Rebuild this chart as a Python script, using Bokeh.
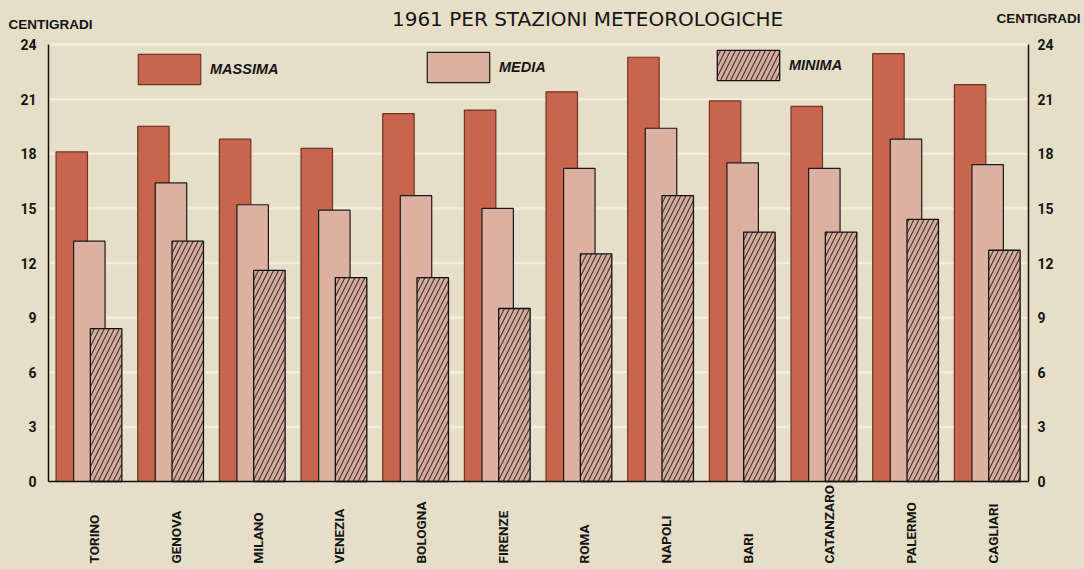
import math
from bokeh.plotting import figure
from bokeh.models import (Range1d, LinearAxis, FixedTicker, ColumnDataSource,
                          Legend, LegendItem, Label, LabelSet)
from bokeh.transform import dodge
from bokeh.core.properties import value
from bokeh.embed import file_html
from bokeh.resources import INLINE

# ---- data ----
stazioni = ["TORINO", "GENOVA", "MILANO", "VENEZIA", "BOLOGNA", "FIRENZE",
            "ROMA", "NAPOLI", "BARI", "CATANZARO", "PALERMO", "CAGLIARI"]
massima = [18.1, 19.5, 18.8, 18.3, 20.2, 20.4, 21.4, 23.3, 20.9, 20.6, 23.5, 21.8]
media = [13.2, 16.4, 15.2, 14.9, 15.7, 15.0, 17.2, 19.4, 17.5, 17.2, 18.8, 17.4]
minima = [8.4, 13.2, 11.6, 11.2, 11.2, 9.5, 12.5, 15.7, 13.7, 13.7, 14.4, 12.7]
y_ticks = [0, 3, 6, 9, 12, 15, 18, 21, 24]
titolo = "1961 PER STAZIONI METEOROLOGICHE"
unita = "CENTIGRADI"
serie = ["MASSIMA", "MEDIA", "MINIMA"]

BG = "#e6dec6"
INK = "#151515"
FONT = "Roboto"
FONT2 = "Liberation Sans"

n = len(stazioni)
W, H = 1084, 569
# page geometry of the plotting area (axes)
left_px, right_px, base_px, top_px = 48, 1028, 481, 44
ppx = (right_px - left_px) / n          # pixels per category
ppy = (base_px - top_px) / y_ticks[-1]  # pixels per degree

pos = [i + 0.5 for i in range(n)]
src = ColumnDataSource(dict(stazione=stazioni, x=pos, massima=massima,
                            media=media, minima=minima))

p = figure(width=W, height=H,
           x_range=Range1d(-left_px / ppx, n + (W - right_px) / ppx),
           y_range=Range1d(-(H - base_px) / ppy, base_px / ppy),
           x_axis_location=None, output_backend="svg", toolbar_location=None,
           min_border=0, min_border_left=0, min_border_right=0,
           min_border_top=0, min_border_bottom=0,
           background_fill_color=BG, border_fill_color=BG,
           outline_line_color=None)
p.xgrid.grid_line_color = None
p.ygrid.grid_line_color = None

ticker = FixedTicker(ticks=y_ticks)
axis_style = dict(axis_line_color="#111111", axis_line_width=1.5,
                  major_tick_line_color=None, minor_tick_line_color=None,
                  major_tick_out=0, major_tick_in=0,
                  major_label_text_font=FONT, major_label_text_font_style="bold",
                  major_label_text_font_size="14px",
                  major_label_text_color=INK)

# horizontal guide lines at each tick (between the two axes)
p.segment(x0=0, x1=n, y0=y_ticks[1:], y1=y_ticks[1:],
          line_color="#f2eddd", line_width=2.5)

# left axis
la = p.yaxis[0]
la.ticker = ticker
la.bounds = (0, y_ticks[-1])
la.fixed_location = 0
la.major_label_standoff = 12
for k, v in axis_style.items():
    setattr(la, k, v)

# right axis
ra = LinearAxis(ticker=ticker, bounds=(0, y_ticks[-1]), fixed_location=n,
                major_label_standoff=9, **axis_style)
p.add_layout(ra, "right")

# baseline axis
ba = LinearAxis(ticker=FixedTicker(ticks=[]), bounds=(0, n), fixed_location=0,
                axis_line_color="#111111", axis_line_width=1.5,
                major_tick_line_color=None, minor_tick_line_color=None,
                major_label_text_font_size="0px")
p.add_layout(ba, "below")

# bars
r1 = p.vbar(x=dodge("x", -0.215), top="massima", width=0.385, source=src,
            fill_color="#c8654f", line_color="#6e3424", line_width=1.2)
r2 = p.vbar(x=dodge("x", 0.0), top="media", width=0.385, source=src,
            fill_color="#ddb1a2", line_color="#1a1a1a", line_width=1.2)
r3 = p.vbar(x=dodge("x", 0.205), top="minima", width=0.385, source=src,
            fill_color="#d3ae9e", hatch_pattern="/", hatch_color="#3e2820",
            hatch_scale=10, hatch_weight=1.2, hatch_alpha=0.9,
            line_color="#111111", line_width=1.3)

# legends (glyph area is 78x38, the drawn box is inset by 10%)
for r, name, loc in [(r1, serie[0], (130, 481)), (r2, serie[1], (419, 483)),
                     (r3, serie[2], (709, 485))]:
    leg = Legend(items=[LegendItem(label=name, renderers=[r])], location=loc,
                 orientation="horizontal", glyph_width=78, glyph_height=38,
                 label_standoff=2, padding=0, margin=0, spacing=0,
                 label_height=38, border_line_color=None,
                 background_fill_alpha=0, label_text_font=FONT2,
                 label_text_font_style="bold italic",
                 label_text_font_size="14.5px", label_text_color=INK)
    p.add_layout(leg, "center")

# station labels, reading upwards from the bottom
labels = LabelSet(x="x", y=6, y_units="screen", text="stazione", source=src,
                  angle=math.pi / 2, text_align="left",
                  text_baseline="middle", x_offset=5,
                  text_font=value(FONT), text_font_style="bold",
                  text_font_size="13.5px", text_color=INK)
p.add_layout(labels)

# title & unit labels
p.add_layout(Label(x=587, y=H - 18, x_units="screen", y_units="screen",
                   text=titolo, text_align="center", text_baseline="middle",
                   text_font="DejaVu Sans", text_font_size="20px",
                   text_color=INK))
p.add_layout(Label(x=8, y=H - 24, x_units="screen", y_units="screen",
                   text=unita, text_align="left", text_baseline="middle",
                   text_font=FONT2, text_font_style="bold",
                   text_font_size="13.5px", text_color=INK))
p.add_layout(Label(x=1080, y=H - 18, x_units="screen", y_units="screen",
                   text=unita, text_align="right", text_baseline="middle",
                   text_font=FONT2, text_font_style="bold",
                   text_font_size="13.5px", text_color=INK))

html = file_html(p, INLINE)
html = html.replace("</head>",
                    "<style>html,body{background-color:#e6dec6;}</style></head>", 1)
open("out.html", "w").write(html)
